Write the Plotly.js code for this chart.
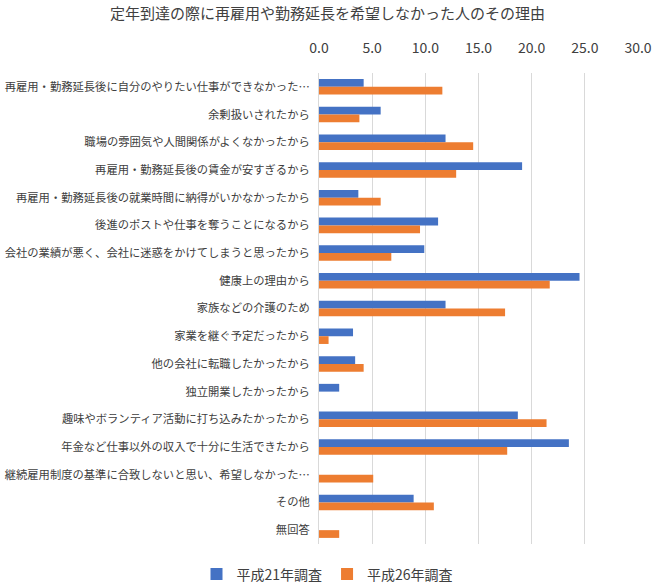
<!DOCTYPE html>
<html>
<head>
<meta charset="utf-8">
<script src="https://cdn.plot.ly/plotly-3.0.1.min.js"></script>
<style>html,body{margin:0;padding:0;background:#fff}#chart{width:655px;height:585px}</style>
</head>
<body>
<div id="chart"></div>
<script>
const categories = [
  "再雇用・勤務延長後に自分のやりたい仕事ができなかった…",
  "余剰扱いされたから",
  "職場の雰囲気や人間関係がよくなかったから",
  "再雇用・勤務延長後の賃金が安すぎるから",
  "再雇用・勤務延長後の就業時間に納得がいかなかったから",
  "後進のポストや仕事を奪うことになるから",
  "会社の業績が悪く、会社に迷惑をかけてしまうと思ったから",
  "健康上の理由から",
  "家族などの介護のため",
  "家業を継ぐ予定だったから",
  "他の会社に転職したかったから",
  "独立開業したかったから",
  "趣味やボランティア活動に打ち込みたかったから",
  "年金など仕事以外の収入で十分に生活できたから",
  "継続雇用制度の基準に合致しないと思い、希望しなかった…",
  "その他",
  "無回答"
];
const seriesNames = ["平成21年調査", "平成26年調査"];
const h21 = [4.2, 5.8, 11.9, 19.1, 3.7, 11.2, 9.9, 24.5, 11.9, 3.2, 3.4, 1.9, 18.7, 23.5, null, 8.9, null];
const h26 = [11.6, 3.8, 14.5, 12.9, 5.8, 9.5, 6.8, 21.7, 17.5, 0.9, 4.2, null, 21.4, 17.7, 5.1, 10.8, 1.9];
const xTicks = [0, 5, 10, 15, 20, 25, 30];

const font = "'Noto Sans CJK JP', 'Noto Sans', sans-serif";
const data = [
  {type: 'bar', orientation: 'h', name: seriesNames[0], y: categories, x: h21,
   marker: {color: '#4472C4'}, hoverinfo: 'x+y'},
  {type: 'bar', orientation: 'h', name: seriesNames[1], y: categories, x: h26,
   marker: {color: '#ED7D31'}, hoverinfo: 'x+y'}
];
const layout = {
  width: 655, height: 585,
  margin: {l: 319, r: 17, t: 73, b: 41},
  paper_bgcolor: '#fff', plot_bgcolor: '#fff',
  title: {text: '定年到達の際に再雇用や勤務延長を希望しなかった人のその理由',
          font: {family: font, size: 15, color: '#404040'}, x: 0.5, xanchor: 'center', y: 0.985, yanchor: 'top'},
  barmode: 'group', bargap: 0.44, bargroupgap: 0,
  xaxis: {side: 'top', range: [0, 30], tickvals: xTicks, ticktext: xTicks.map(v => v.toFixed(1)),
          showgrid: true, gridcolor: '#D9D9D9', gridwidth: 1, zeroline: false, showline: false,
          ticks: '', ticklen: 0, ticklabelstandoff: 16, automargin: false,
          tickfont: {family: font, size: 14, color: '#404040'}, fixedrange: true},
  yaxis: {autorange: 'reversed', type: 'category', showgrid: false, zeroline: false, automargin: false,
          showline: true, linecolor: '#D9D9D9', linewidth: 1, ticks: '', ticklabelstandoff: 6,
          tickfont: {family: font, size: 11.3, color: '#404040'}, fixedrange: true},
  legend: {orientation: 'h', xref: 'container', yref: 'container', x: 0.5, xanchor: 'center',
           y: 0.018, yanchor: 'middle',
           font: {family: font, size: 14, color: '#404040'}, traceorder: 'normal',
           itemwidth: 20},
  showlegend: true
};
Plotly.newPlot('chart', data, layout, {displayModeBar: false, staticPlot: true});
</script>
</body>
</html>
